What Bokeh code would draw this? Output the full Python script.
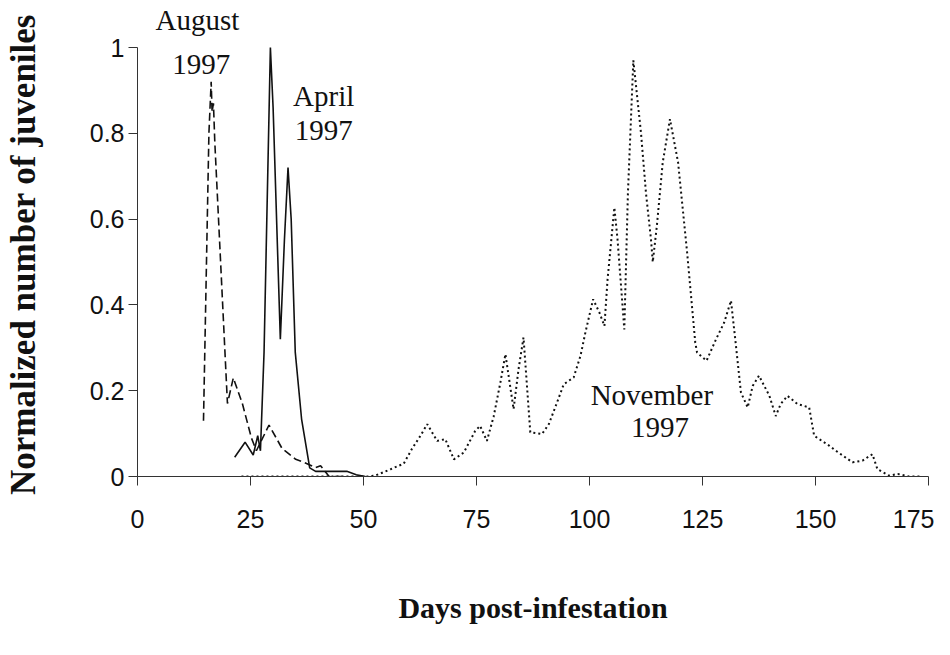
from bokeh.plotting import figure
from bokeh.models import Range1d, FixedTicker, Label, Title
from bokeh.embed import file_html
from bokeh.resources import INLINE

# ---- data ----
august_days = [14.6, 15.8, 16.3, 16.5, 16.8, 17.1, 19.9, 21.2, 23.2, 25.2, 26.3, 29.1, 32.0, 35.0, 36.8, 39.4, 40.5, 42.4, 45.7]
august_vals = [0.13, 0.80, 0.92, 0.85, 0.87, 0.78, 0.17, 0.23, 0.17, 0.09, 0.06, 0.12, 0.065, 0.04, 0.033, 0.021, 0.025, 0.0, 0.0]

april_days = [21.5, 23.8, 25.6, 26.6, 27.2, 28.0, 29.4, 30.0, 31.6, 32.5, 33.3, 34.0, 34.9, 36.3, 38.1, 39.4, 46.3, 48.4, 50.4]
april_vals = [0.045, 0.08, 0.05, 0.095, 0.06, 0.29, 1.0, 0.86, 0.32, 0.55, 0.72, 0.6, 0.29, 0.134, 0.02, 0.012, 0.012, 0.004, 0.0]

november_days = [23, 51, 52.6, 56, 58.9, 60.7, 62.6, 64.1, 66.3, 68.1, 70.0, 72.2, 74.7, 75.8, 77.3, 78.8,
                 80.3, 81.4, 83.2, 84.3, 85.4, 86.9, 89.5, 91.0, 92.8, 94.3, 96.5, 98.0, 99.1, 100.8,
                 102.2, 103.3, 104.0, 105.5, 106.2, 107.7, 108.5, 109.7, 111.4, 112.5, 113.6, 114.0, 114.9,
                 116.2, 117.8, 119.6, 121.6, 123.4, 123.8, 125.9, 128.0, 129.8, 131.3, 132.4, 133.5, 135.0,
                 136.1, 137.5, 139.8, 141.2, 142.3, 143.8, 146.0, 148.6, 149.7, 153.0, 154.5, 158.2, 160.4,
                 162.6, 163.7, 166.3, 168.2, 170.7, 173.5]
november_vals = [0.0, 0.0, 0.002, 0.017, 0.03, 0.064, 0.095, 0.122, 0.083, 0.087, 0.04, 0.056, 0.106, 0.118, 0.083, 0.14,
                 0.22, 0.285, 0.157, 0.25, 0.324, 0.103, 0.099, 0.122, 0.172, 0.215, 0.231, 0.281, 0.336, 0.413,
                 0.382, 0.351, 0.46, 0.627, 0.553, 0.343, 0.66, 0.97, 0.80, 0.66, 0.553, 0.50, 0.584,
                 0.732, 0.833, 0.732, 0.522, 0.312, 0.289, 0.27, 0.32, 0.359, 0.41, 0.305, 0.196, 0.161,
                 0.211, 0.235, 0.188, 0.141, 0.169, 0.188, 0.169, 0.161, 0.095, 0.072, 0.06, 0.033, 0.037,
                 0.052, 0.017, 0.002, 0.006, 0.0, 0.0]

x_ticks = [0, 25, 50, 75, 100, 125, 150, 175]
y_ticks = [0, 0.2, 0.4, 0.6, 0.8, 1]
y_tick_labels = {0: "0", 0.2: "0.2", 0.4: "0.4", 0.6: "0.6", 0.8: "0.8", 1: "1"}

# in-plot annotation texts with their anchor (day, normalized value)
annotations = [
    ("1997", 14.1, 0.96),
    ("April", 41.2, 0.888),
    ("1997", 41.2, 0.807),
    ("November", 113.8, 0.189),
    ("1997", 115.6, 0.114),
]
top_note = "August"   # sits above the plotting area, over "1997"

SERIF = "Liberation Serif"
SANS = "Liberation Sans"
INK = "#111111"

p = figure(width=934, height=640, output_backend="svg", toolbar_location=None,
           x_range=Range1d(0, 175), y_range=Range1d(0, 1.035),
           min_border_left=137, min_border_right=6, min_border_top=32, min_border_bottom=164)
p.outline_line_color = None
p.grid.grid_line_color = None
p.background_fill_color = "white"
p.border_fill_color = "white"

p.line(august_days, august_vals, line_color=INK, line_width=1.6, line_dash="8 4")
p.line(april_days, april_vals, line_color=INK, line_width=1.6)
p.line(november_days, november_vals, line_color=INK, line_width=2.0, line_dash="2 3")

for ax in (p.xaxis[0], p.yaxis[0]):
    ax.axis_line_color = "#333333"
    ax.axis_line_width = 1
    ax.major_tick_line_color = "#333333"
    ax.major_tick_in = 0
    ax.major_tick_out = 9
    ax.minor_tick_line_color = None
    ax.major_label_text_font = SANS
    ax.major_label_text_font_size = "25px"
    ax.major_label_text_color = "#111111"
    ax.axis_label_text_font = SERIF
    ax.axis_label_text_font_style = "bold"
    ax.axis_label_text_color = "#111111"

p.yaxis.bounds = (0, 1)
p.xaxis.ticker = FixedTicker(ticks=x_ticks)
p.yaxis.ticker = FixedTicker(ticks=y_ticks)
p.yaxis.major_label_overrides = y_tick_labels
p.xaxis.major_label_standoff = 24
p.yaxis.major_label_standoff = 4
p.xaxis.axis_label = "Days post-infestation"
p.xaxis.axis_label_text_font_size = "30px"
p.xaxis.axis_label_standoff = 60
p.yaxis.axis_label = "Normalized number of juveniles"
p.yaxis.axis_label_text_font_size = "35px"
p.yaxis.axis_label_standoff = 44

p.add_layout(Title(text=top_note, align="left", offset=18, vertical_align="bottom", standoff=-6,
                   text_font=SERIF, text_font_style="normal", text_font_size="29px",
                   text_color=INK), "above")

for txt, xd, yv in annotations:
    p.add_layout(Label(x=xd, y=yv, text=txt, text_font=SERIF, text_font_size="29px",
                       text_color=INK, text_align="center", text_baseline="middle"))

open("out.html", "w").write(file_html(p, INLINE))
